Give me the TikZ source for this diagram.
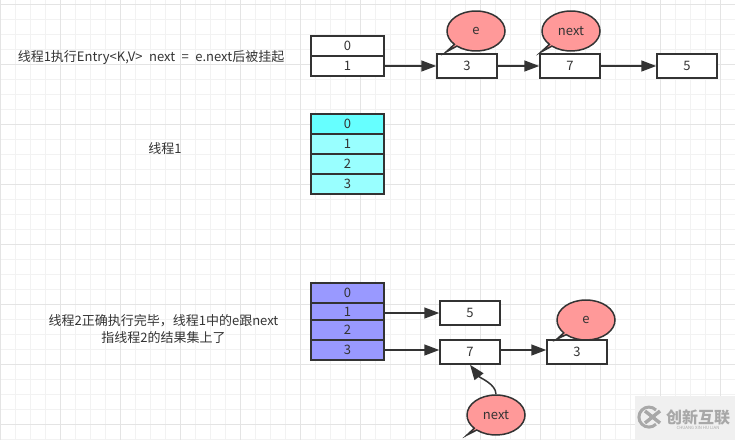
\documentclass[tikz,border=0pt]{standalone}
\usepackage{fontspec}
\setmainfont{Noto Sans CJK SC}
\usepackage{tikz}
\usetikzlibrary{shapes,shapes.callouts,arrows.meta,positioning}
\definecolor{inkgray}{HTML}{333333}
\definecolor{minorline}{HTML}{F2F2F2}
\definecolor{majorline}{HTML}{E4E4E4}
\definecolor{bubblered}{HTML}{FF9999}
\definecolor{tablecyan}{HTML}{66FFFF}
\definecolor{tablelight}{HTML}{99FFFF}
\definecolor{tablepurple}{HTML}{9999FF}
\definecolor{markbg}{HTML}{F0F0F0}
\definecolor{markink}{HTML}{A8A8A8}
\tikzstyle{cell} = [rectangle, draw=inkgray, line width=1.5pt, fill=white, text=inkgray,
    font=\fontsize{13}{15}\selectfont, minimum width=73pt, minimum height=20pt, inner sep=0pt]
\tikzstyle{listbox} = [cell, minimum width=60pt, minimum height=24pt]
\tikzstyle{bubble} = [ellipse callout, draw=inkgray, line width=1.5pt, fill=bubblered, text=inkgray,
    font=\fontsize{13}{15}\selectfont, minimum width=58pt, minimum height=40pt, inner sep=0pt,
    callout pointer arc=7]
\tikzstyle{caption} = [text=inkgray, font=\fontsize{13}{17}\selectfont, align=center, inner sep=0pt]
\tikzstyle{line} = [draw=inkgray, line width=1.5pt, -{Triangle[length=15pt,width=11pt]}]

\begin{document}
\begin{tikzpicture}[x=1pt, y=-1pt, node distance=20pt]
  \useasboundingbox (0,0) rectangle (735,440);
  % grid
  \foreach \gx in {15,30,...,735} \draw[minorline, line width=1pt] (\gx,0) -- (\gx,440);
  \foreach \gy in {4,19,...,440} \draw[minorline, line width=1pt] (0,\gy) -- (735,\gy);
  \foreach \gx in {0,60,...,720} \draw[majorline, line width=1pt] (\gx,0) -- (\gx,440);
  \foreach \gy in {4,64,...,424} \draw[majorline, line width=1pt] (0,\gy) -- (735,\gy);
  % captions
  \node [caption] (captop) at (151,58) {\spaceskip=6.5pt 线程1执行Entry<K,V> next = e.next后被挂起};
  \node [caption] (capmid) at (165,149) {线程1};
  \node [caption] (capbot) at (163.5,329) {线程2正确执行完毕，线程1中的e跟next\\指线程2的结果集上了};
  % first table and list
  \node [cell] (topa) at (347.5,46) {0};
  \node [cell, below of = topa] (topb) {1};
  \node [listbox] (topthree) at (467,66) {3};
  \node [listbox] (topseven) at (570,66) {7};
  \node [listbox] (topfive) at (687,66) {5};
  \node [bubble, callout absolute pointer={(446,52)}] (tope) at (476,31) {e};
  \node [bubble, callout absolute pointer={(541,52)}] (topnext) at (571,31) {next};
  % thread 1 table
  \node [cell, fill=tablecyan] (mida) at (347.5,124) {0};
  \node [cell, fill=tablelight, below of = mida] (midb) {1};
  \node [cell, fill=tablelight, below of = midb] (midc) {2};
  \node [cell, fill=tablelight, below of = midc] (midd) {3};
  % thread 2 table and lists
  \node [cell, fill=tablepurple] (bota) at (347.5,293) {0};
  \node [cell, fill=tablepurple, minimum height=17pt] (botb) at (347.5,311.5) {1};
  \node [cell, fill=tablepurple] (botc) at (347.5,330) {2};
  \node [cell, fill=tablepurple] (botd) at (347.5,350) {3};
  \node [listbox] (botfive) at (470,313) {5};
  \node [listbox] (botseven) at (470,352) {7};
  \node [listbox] (botthree) at (577,352) {3};
  \node [bubble, callout absolute pointer={(557,339)}] (bote) at (586,320) {e};
  \node [bubble, callout absolute pointer={(467,435)}] (botnext) at (496,415) {next};
  % edges
  \path [line] (topb) -- (topthree);
  \path [line] (topthree) -- (topseven);
  \path [line] (topseven) -- (topfive);
  \path [line] (botb.east |- botfive.west) -- (botfive.west);
  \path [line] (botd.east) -- (botd.east -| botseven.west);
  \path [line] (botd.east -| botseven.east) -- (botd.east -| botthree.west);
  \path [line] (botnext.north) .. controls (496,384) and (480,378) .. (botseven.south);
  % watermark
  \node [fill=markbg, minimum width=100pt, minimum height=44pt, inner sep=0pt] (markbox) at (685,418) {};
  \coordinate (marklogo) at (649,417);
  \node [text=markink, font=\bfseries\fontsize{16}{18}\selectfont, inner sep=0pt] (marktext) at (698,417) {创新互联};
  \node [text=markink, font=\fontsize{4.3}{5}\selectfont, inner sep=0pt] (marksub) at (698,428) {CHUANG XIN HU LIAN};
  \draw [markink, line width=3pt] (marklogo) ++(7,-7) arc[start angle=-45, end angle=-315, radius=10];
  \draw [markink, line width=3.4pt] (marklogo) ++(-4,-6) -- ++(15,12) (marklogo) ++(-4,6) -- ++(15,-12);
\end{tikzpicture}
\end{document}
